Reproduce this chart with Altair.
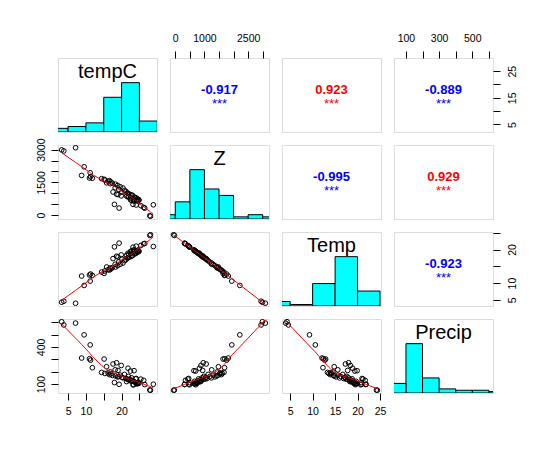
import altair as alt
import pandas as pd

# ---------------- data ----------------
names = ["tempC", "Z", "Temp", "Precip"]

tempC = [3.2, 3.8, 7.1, 9.5, 11.2, 8.8, 11.0, 11.3, 11.8, 14.4,
         15.3, 16.2, 15.1, 15.8, 17.6, 18.6, 19.9, 21.8, 19.0, 22.5,
         18.2, 23.5, 28.1, 27.9, 18.0, 19.3, 28.9, 26.2, 26.5, 25.4,
         24.1, 23.2, 17.0, 16.6, 17.4, 18.3, 16.8, 18.9, 19.6, 20.4,
         19.2, 20.8, 21.2, 20.1, 21.6, 21.9, 22.3, 22.8, 23.1, 21.4,
         22.0, 23.6, 24.0, 22.6, 23.9, 24.4, 24.7, 23.4, 24.9, 24.2,
         22.9, 24.6]

Z = [2990, 2944, 3090, 2215, 1940, 1820, 1700, 1760, 1690, 1670,
     1610, 1550, 1640, 1480, 1060, 960, 880, 830, 940, 700,
     1250, 640, -55, -30, 490, 320, 470, 350, 318, 430,
     460, 490, 1520, 1580, 1460, 1420, 1440, 1360, 1300, 1240,
     1180, 1130, 1090, 1050, 1020, 980, 950, 920, 900, 870,
     850, 820, 800, 780, 760, 740, 720, 700, 690, 670,
     660, 650]

Temp = [4.3, 4.6, 4.0, 9.3, 10.6, 12.1, 12.4, 12.7, 12.3, 13.3,
        13.6, 14.0, 12.9, 14.8, 17.3, 18.0, 18.4, 18.9, 17.8, 19.4,
        15.6, 19.9, 24.4, 24.2, 20.8, 21.9, 20.9, 21.7, 21.8, 21.2,
        21.0, 20.7, 14.2, 13.9, 14.6, 14.8, 14.5, 15.2, 15.6, 16.0,
        16.3, 16.7, 16.9, 17.2, 17.4, 17.6, 17.8, 18.0, 18.2, 18.3,
        18.5, 18.7, 18.8, 18.9, 19.1, 19.2, 19.3, 19.5, 19.5, 19.6,
        19.7, 19.8]

Precip = [603, 577, 592, 497, 416, 310, 304, 293, 232, 194,
          186, 190, 302, 240, 262, 272, 250, 228, 210, 205,
          215, 208, 50, 52, 112, 98, 99, 130, 96, 140,
          145, 94, 182, 176, 170, 165, 198, 158, 172, 150,
          160, 178, 145, 155, 140, 162, 138, 150, 128, 120,
          133, 118, 142, 125, 112, 105, 115, 95, 108, 101,
          122, 104]

# correlation labels for the upper panels (row, col)
corr_cells = [(0, 1), (0, 2), (0, 3), (1, 2), (1, 3), (2, 3)]
corr_text = ["-0.917", "0.923", "-0.889", "-0.995", "0.929", "-0.923"]
corr_stars = ["***", "***", "***", "***", "***", "***"]

# axis ticks and which of them carry a label
tick_values = {
    "tempC": [5, 10, 15, 20, 25],
    "Z": [0, 500, 1000, 1500, 2000, 2500, 3000],
    "Temp": [5, 10, 15, 20, 25],
    "Precip": [100, 200, 300, 400, 500, 600],
}
shown_top = {"Z": [0, 1000, 2500], "Precip": [100, 300, 500]}
shown_bottom = {"tempC": [5, 10, 20], "Temp": [5, 10, 15, 20, 25]}
shown_left = {"Z": [0, 1500, 3000], "Precip": [100, 400]}
shown_right = {"tempC": [5, 15, 25], "Temp": [5, 10, 20]}

# histogram breaks (start, end, step)
hist_breaks = {"tempC": (0, 30, 5), "Z": (-500, 3500, 500),
               "Temp": (0, 25, 5), "Precip": (0, 700, 100)}

df = pd.DataFrame({"tempC": tempC, "Z": Z, "Temp": Temp, "Precip": Precip})
cols = {"tempC": tempC, "Z": Z, "Temp": Temp, "Precip": Precip}

W, H = 99, 74
FONT = "Liberation Sans"


def dom(v):
    lo, hi = min(cols[v]), max(cols[v])
    pad = 0.04 * (hi - lo)
    return [lo - pad, hi + pad]


def scale(v):
    return alt.Scale(domain=dom(v), nice=False, zero=False)


def make_axis(v, orient, shown):
    expr = " || ".join(f"datum.value == {s}" for s in shown)
    kw = dict(orient=orient, values=tick_values[v], format="d",
              labelExpr=f"({expr}) ? datum.label : ''",
              title=None, grid=False, domain=False, ticks=True,
              tickSize=7, tickColor="black", tickWidth=1,
              labelColor="black", labelFont=FONT, labelFontSize=10.5,
              labelOverlap=False, labelFlush=False)
    if orient == "top":
        kw.update(labelPadding=8, labelAngle=0, labelAlign="center",
                  labelBaseline="bottom")
    elif orient == "bottom":
        kw.update(labelPadding=6, labelAngle=0, labelAlign="center",
                  labelBaseline="top")
    elif orient == "left":
        kw.update(labelPadding=5, labelAngle=270, labelAlign="center",
                  labelBaseline="bottom")
    else:
        kw.update(labelPadding=7, labelAngle=270, labelAlign="center",
                  labelBaseline="top")
    return alt.Axis(**kw)


def x_axis(i, j):
    v = names[j]
    if i == 0 and v in shown_top:
        return make_axis(v, "top", shown_top[v])
    if i == 3 and v in shown_bottom:
        return make_axis(v, "bottom", shown_bottom[v])
    return None


def y_axis(i, j):
    v = names[i]
    if j == 0 and v in shown_left:
        return make_axis(v, "left", shown_left[v])
    if j == 3 and v in shown_right:
        return make_axis(v, "right", shown_right[v])
    return None


def enc_x(i, j):
    v = names[j]
    ax = x_axis(i, j)
    if ax is None:
        return alt.X(f"{v}:Q", scale=scale(v), axis=None)
    return alt.X(f"{v}:Q", scale=scale(v), axis=ax)


def enc_y(i, j):
    v = names[i]
    ax = y_axis(i, j)
    if ax is None:
        return alt.Y(f"{v}:Q", scale=scale(v), axis=None)
    return alt.Y(f"{v}:Q", scale=scale(v), axis=ax)


panels = []
for i in range(4):
    for j in range(4):
        if i == j:
            v = names[i]
            b0, b1, st = hist_breaks[v]
            lo_f, hi_f = f"{v}_binlo", f"{v}_binhi"
            n_f, m_f, h_f = f"{v}_n", f"{v}_m", f"{v}_h"
            hist = (
                alt.Chart(df)
                .transform_bin([lo_f, hi_f], field=v,
                               bin=alt.Bin(extent=[b0, b1], step=st, nice=False))
                .transform_aggregate(**{n_f: "count()"}, groupby=[lo_f, hi_f])
                .transform_joinaggregate(**{m_f: f"max({n_f})"})
                .transform_calculate(**{h_f: f"datum['{n_f}'] / datum['{m_f}']"})
                .mark_rect(fill="#00FFFF", stroke="black", strokeWidth=1, clip=True)
                .encode(
                    x=alt.X(f"{lo_f}:Q", scale=scale(v), axis=None),
                    x2=f"{hi_f}:Q",
                    y=alt.Y(f"{h_f}:Q", scale=alt.Scale(domain=[0, 1.5], nice=False, zero=True), axis=None),
                    y2=alt.datum(0),
                )
            )
            lab = (
                alt.Chart(pd.DataFrame({"name": [v]}))
                .mark_text(font=FONT, fontSize=20, color="black",
                           align="center", baseline="alphabetic")
                .encode(x=alt.value(W / 2), y=alt.value(20), text="name:N")
            )
            panel = alt.layer(hist, lab)
        elif i > j:
            pts = (
                alt.Chart(df)
                .mark_point(shape="circle", filled=False, color="black",
                            size=22, strokeWidth=1, opacity=1, clip=True)
                .encode(x=enc_x(i, j), y=enc_y(i, j))
            )
            smooth = (
                alt.Chart(df)
                .transform_loess(names[j], names[i], bandwidth=0.67)
                .mark_line(color="red", strokeWidth=1, clip=True)
                .encode(x=enc_x(i, j), y=enc_y(i, j))
            )
            panel = alt.layer(pts, smooth)
        else:
            k = corr_cells.index((i, j))
            col = "red" if not corr_text[k].startswith("-") else "blue"
            ghost = (
                alt.Chart(df)
                .mark_point(opacity=0)
                .encode(x=enc_x(i, j), y=enc_y(i, j))
            )
            tdf = pd.DataFrame({"r": [corr_text[k]], "s": [corr_stars[k]]})
            num = (
                alt.Chart(tdf)
                .mark_text(font=FONT, fontSize=13, fontWeight="bold", color=col,
                           align="center", baseline="alphabetic")
                .encode(x=alt.value(W / 2), y=alt.value(36), text="r:N")
            )
            stars = (
                alt.Chart(tdf)
                .mark_text(font=FONT, fontSize=13, color=col,
                           align="center", baseline="alphabetic")
                .encode(x=alt.value(W / 2), y=alt.value(50), text="s:N")
            )
            panel = alt.layer(ghost, num, stars)
        panels.append(panel.properties(width=W, height=H))

chart = (
    alt.concat(*panels, columns=4, spacing=13, bounds="flush")
    .properties(padding={"left": 27, "top": 24, "right": 10, "bottom": 10})
    .configure_view(stroke="black", strokeWidth=1, fill="white")
    .configure(background="white")
)

chart.save("out.html", embed_options={"renderer": "svg", "actions": False})
